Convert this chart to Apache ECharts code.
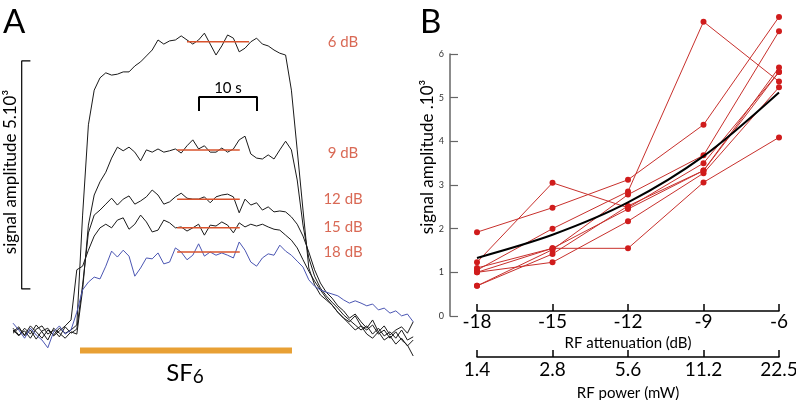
<!DOCTYPE html>
<html>
<head>
<meta charset="utf-8">
<script src="https://cdn.jsdelivr.net/npm/echarts@6/dist/echarts.min.js"></script>
<style>html,body{margin:0;padding:0;background:#fff}#c{width:796px;height:400px}</style>
</head>
<body>
<div id="c"></div>
<script>
// ---------- Panel A : time traces (1 sample per second, amplitude in 10^3 units) ----------
const SAMPLE_STEP_S = 1;
const trace6dB = [-0.07,0.04,-0.11,0.09,-0.04,-0.18,0,-0.11,0.04,-0.07,0,0.11,2.52,4.50,5.26,5.53,5.64,5.59,5.61,5.66,5.66,5.79,5.88,6.01,6.14,6.36,6.27,6.34,6.36,6.45,6.36,6.27,6.36,6.51,6.27,6.03,6.23,6.47,6.40,6.10,6.18,6.32,6.40,6.27,6.23,6.14,6.07,6.03,5.26,3.95,2.63,1.36,0.99,0.77,0.66,0.55,0.39,0.26,0.18,0.31,0.09,0,0.11,-0.09,0,-0.18,-0.04,-0.22,-0.33,-0.57];
const trace9dB = [0,-0.13,0.04,-0.09,0.11,-0.04,-0.22,0.04,-0.07,-0.18,-0.04,-0.09,0.88,2.30,2.96,3.25,3.46,3.77,4.01,3.93,4.01,3.90,3.71,3.95,3.90,3.97,3.90,3.93,3.97,3.88,4.04,4.17,3.97,4.04,3.90,3.90,3.99,3.90,3.97,4.17,4.25,3.86,3.77,3.75,3.84,3.75,3.95,4.14,3.95,3.29,2.30,1.58,1.18,0.92,0.75,0.61,0.48,0.33,0.22,0.11,0,0.09,-0.09,0.04,-0.13,-0.04,-0.18,0,-0.22,-0.15];
const trace12dB = [0.04,-0.11,-0.02,-0.18,0.02,0.09,-0.09,0,-0.15,0.07,-0.07,0.02,0.99,2.13,2.52,2.63,2.76,2.89,2.74,2.87,2.94,2.76,2.83,2.92,3.07,2.96,2.76,2.81,2.92,3.00,2.89,2.87,2.87,2.92,2.79,2.92,2.96,2.98,2.92,2.57,2.87,2.74,2.79,2.63,2.70,2.59,2.61,2.59,2.48,2.32,2.06,1.71,1.32,1.03,0.83,0.70,0.53,0.42,0.26,0.35,0.18,0.04,0.22,-0.04,0.09,-0.11,0,0.07,-0.07,0.18];
const trace15dB = [-0.04,0.07,-0.13,0,-0.20,-0.02,0.04,-0.13,-0.02,0.09,0.22,1.32,1.40,1.75,2.06,2.24,2.32,2.24,2.41,2.46,2.21,2.32,2.52,2.37,2.15,2.19,2.41,2.35,2.24,2.26,2.17,2.24,2.32,2.08,2.30,2.28,2.37,2.30,2.13,2.35,2.26,2.32,2.28,2.32,2.26,2.21,2.19,2.08,1.97,1.80,1.54,1.29,1.07,0.88,0.70,0.55,0.39,0.26,0.13,0,0.09,-0.09,-0.18,-0.04,-0.22,-0.13,-0.31,-0.18,-0.35,-0.22];
const trace18dB = [0.15,0,-0.18,0.04,-0.11,-0.22,-0.39,-0.04,0.09,-0.09,0,0.39,0.88,1.05,1.16,1.12,1.40,1.73,1.60,1.75,1.62,1.18,1.36,1.58,1.56,1.69,1.45,1.49,1.80,1.71,1.54,1.64,1.89,1.62,1.71,1.64,1.69,1.64,1.58,1.93,1.75,1.49,1.40,1.58,1.67,1.64,1.86,1.73,1.64,1.51,1.38,1.10,0.96,0.88,0.83,0.79,0.75,0.66,0.59,0.64,0.59,0.53,0.57,0.44,0.48,0.37,0.42,0.31,0.35,0.18];

const dBLabels = ['6 dB','9 dB','12 dB','15 dB','18 dB'];
const medianLevels = [6.32, 3.95, 2.87, 2.24, 1.71];
const medianStart = [30.0, 28.3, 28.3, 28.3, 28.3];
const medianEnd = [40.7, 39.1, 39.1, 39.1, 39.1];
const dBLabelLevels = [6.32, 3.88, 2.87, 2.26, 1.71];
const dBLabelTime = 56.9;

const sf6Start = 11.55, sf6End = 48.1, sf6Level = -0.45;
const timeBar = [32.07, 42.07];     // 10 s scale bar
const timeBarLevels = [4.80, 5.11];
const ampBar = [0.90, 5.90];        // 5.10^3 scale bar
const ampBarTimes = [1.5, 3.0];

// ---------- Panel B ----------
const attenuation = [-18, -15, -12, -9, -6];
const powerLabels = ['1.4', '2.8', '5.6', '11.2', '22.5'];
const expt1 = [1.92, 2.48, 3.12, 4.38, 6.85];
const expt2 = [1.23, 3.05, 2.48, 3.50, 5.59];
const expt3 = [1.05, 2.00, 2.85, 6.74, 5.37];
const expt4 = [0.69, 1.52, 2.78, 3.68, 6.52];
const expt5 = [0.69, 1.42, 2.52, 3.33, 5.69];
const expt6 = [1.00, 1.23, 2.17, 3.27, 5.24];
const expt7 = [1.10, 1.55, 1.55, 3.06, 4.09];
const expt8 = [1.00, 1.55, 2.45, 3.33, 5.59];
const fitLine = [1.33, 1.86, 2.60, 3.66, 5.12];

const FONT = 'Lato, "Liberation Sans", sans-serif';
const chart = echarts.init(document.getElementById('c'), null, {renderer: 'canvas'});

const toPairs = arr => arr.map((v, i) => [i * SAMPLE_STEP_S, v]);
const traceSeries = (arr, color) => ({
  type: 'line', xAxisIndex: 0, yAxisIndex: 0, data: toPairs(arr), showSymbol: false,
  lineStyle: {color: color, width: 1}, silent: true, z: 3
});

const series = [
  traceSeries(trace6dB, '#1a1a1a'),
  traceSeries(trace9dB, '#1a1a1a'),
  traceSeries(trace12dB, '#1a1a1a'),
  traceSeries(trace15dB, '#1a1a1a'),
  traceSeries(trace18dB, '#4b56b3'),
];
medianLevels.forEach((lv, k) => {
  series.push({type: 'line', xAxisIndex: 0, yAxisIndex: 0, showSymbol: false, z: 5,
    data: [[medianStart[k], lv], [medianEnd[k], lv]], lineStyle: {color: '#d9532d', width: 1.5}});
});
series.push({type: 'scatter', xAxisIndex: 0, yAxisIndex: 0, symbolSize: 0,
  data: dBLabelLevels.map((lv, k) => ({value: [dBLabelTime, lv], name: dBLabels[k]})),
  label: {show: true, position: 'inside', formatter: p => p.name, color: '#d0432a', fontSize: 15, fontFamily: FONT}});
series.push({type: 'line', xAxisIndex: 0, yAxisIndex: 0, showSymbol: false,
  data: [[sf6Start, sf6Level], [sf6End, sf6Level]], lineStyle: {color: '#e8a034', width: 6, cap: 'butt'}});
series.push({type: 'line', xAxisIndex: 0, yAxisIndex: 0, showSymbol: false,
  data: [[timeBar[0], timeBarLevels[0]], [timeBar[0], timeBarLevels[1]], [timeBar[1], timeBarLevels[1]], [timeBar[1], timeBarLevels[0]]],
  lineStyle: {color: '#000', width: 2}});
series.push({type: 'line', xAxisIndex: 0, yAxisIndex: 0, showSymbol: false,
  data: [[ampBarTimes[1], ampBar[1]], [ampBarTimes[0], ampBar[1]], [ampBarTimes[0], ampBar[0]], [ampBarTimes[1], ampBar[0]]],
  lineStyle: {color: '#000', width: 1.2}});

[expt1, expt2, expt3, expt4, expt5, expt6, expt7, expt8].forEach(arr => {
  series.push({type: 'line', xAxisIndex: 1, yAxisIndex: 1, data: attenuation.map((a, i) => [a, arr[i]]),
    symbol: 'circle', symbolSize: 6, itemStyle: {color: '#d01c1c'}, clip: false,
    lineStyle: {color: '#c8302c', width: 1}, z: 3});
});
series.push({type: 'line', xAxisIndex: 1, yAxisIndex: 1, data: attenuation.map((a, i) => [a, fitLine[i]]),
  showSymbol: false, smooth: 0.3, clip: false, lineStyle: {color: '#000', width: 2}, z: 4});

const option = {
  animation: false,
  backgroundColor: '#fff',
  textStyle: {fontFamily: FONT},
  grid: [
    {left: 13, top: 10.8, width: 406, height: 364.8, outerBoundsMode: 'none', containLabel: false},
    {left: 477, top: 54, width: 302, height: 262, outerBoundsMode: 'none', containLabel: false}
  ],
  xAxis: [
    {gridIndex: 0, type: 'value', min: 0, max: 70, show: false},
    {gridIndex: 1, type: 'value', min: -18, max: -6, interval: 3, position: 'bottom', offset: -5,
      axisLine: {lineStyle: {color: '#000', width: 1.5}},
      axisTick: {inside: true, length: 7, lineStyle: {color: '#000', width: 1.5}},
      splitLine: {show: false},
      axisLabel: {fontSize: 19, color: '#000', margin: 1, fontFamily: FONT},
      name: 'RF attenuation (dB)', nameLocation: 'middle', nameGap: 19,
      nameTextStyle: {fontSize: 15, color: '#000', fontFamily: FONT}},
    {gridIndex: 1, type: 'value', min: -18, max: -6, interval: 3, position: 'bottom', offset: 41,
      axisLine: {lineStyle: {color: '#000', width: 1.5}},
      axisTick: {inside: true, length: 7, lineStyle: {color: '#000', width: 1.5}},
      splitLine: {show: false},
      axisLabel: {fontSize: 19, color: '#000', margin: 3, fontFamily: FONT,
        formatter: v => powerLabels[attenuation.indexOf(v)]},
      name: 'RF power (mW)', nameLocation: 'middle', nameGap: 29,
      nameTextStyle: {fontSize: 15, color: '#000', fontFamily: FONT}}
  ],
  yAxis: [
    {gridIndex: 0, type: 'value', min: -1, max: 7, show: false},
    {gridIndex: 1, type: 'value', min: 0, max: 6, interval: 1, offset: 27,
      axisLine: {show: true, lineStyle: {color: '#666', width: 1.5}},
      axisTick: {show: true, inside: true, length: 8, lineStyle: {color: '#666', width: 1.2}},
      splitLine: {show: false},
      axisLabel: {fontSize: 9, color: '#333', margin: 6, fontFamily: FONT}}
  ],
  graphic: [
    {type: 'text', left: 3, top: 6, style: {text: 'A', fontSize: 33, fill: '#000', fontFamily: FONT}},
    {type: 'text', left: 420, top: 6, style: {text: 'B', fontSize: 33, fill: '#000', fontFamily: FONT}},
    {type: 'text', x: 228, y: 88, style: {text: '10 s', fontSize: 15, fill: '#000', fontFamily: FONT, textAlign: 'center', textVerticalAlign: 'middle'}},
    {type: 'text', x: 11, y: 172, rotation: Math.PI / 2, style: {text: 'signal amplitude 5.10³', fontSize: 17, fill: '#000', fontFamily: FONT, textAlign: 'center', textVerticalAlign: 'middle'}},
    {type: 'text', x: 428, y: 157, rotation: Math.PI / 2, style: {text: 'signal amplitude .10³', fontSize: 17, fill: '#000', fontFamily: FONT, textAlign: 'center', textVerticalAlign: 'middle'}},
    {type: 'text', x: 185, y: 373, style: {text: '{a|SF}{b|6}', fontFamily: FONT, textAlign: 'center', textVerticalAlign: 'middle',
      rich: {a: {fontSize: 24, fontFamily: FONT, fill: '#000', color: '#000'}, b: {fontSize: 19, fontFamily: FONT, color: '#000', padding: [7, 0, 0, 0]}}}}
  ],
  series: series
};
chart.setOption(option);
</script>
</body>
</html>
